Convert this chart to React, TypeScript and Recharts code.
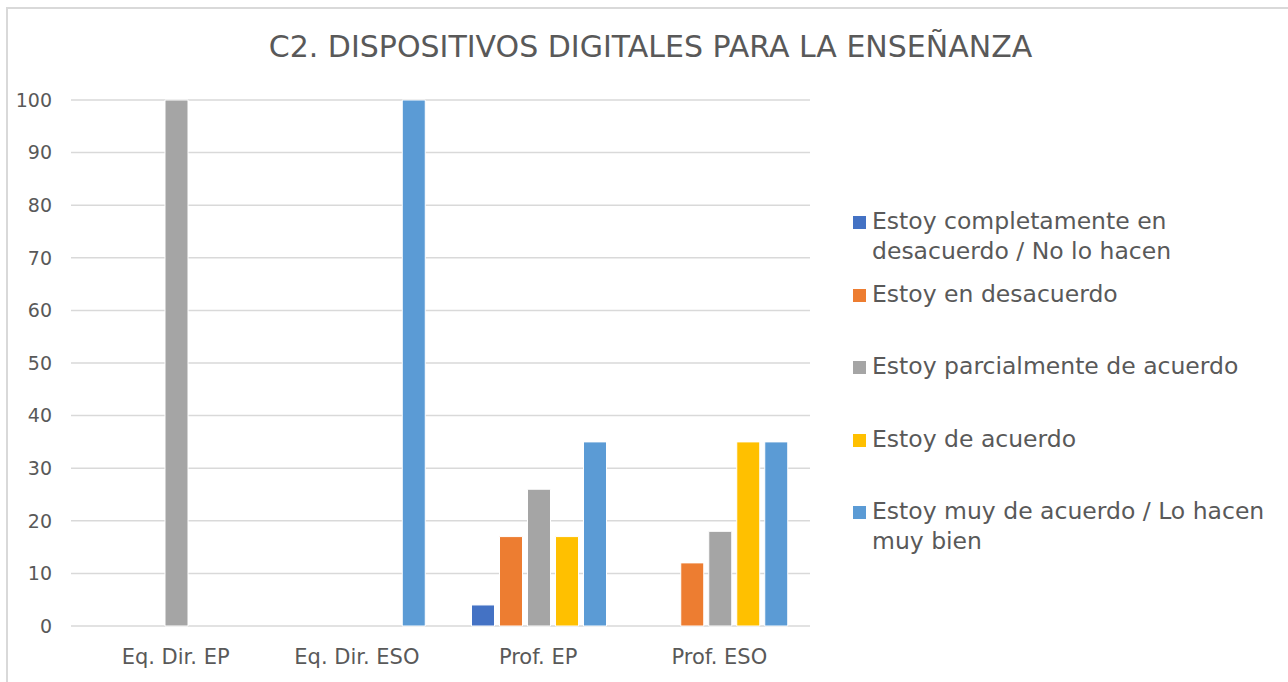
import React from 'react'
import { BarChart, Bar, XAxis, YAxis, CartesianGrid } from 'recharts'

const categories = ['Eq. Dir. EP', 'Eq. Dir. ESO', 'Prof. EP', 'Prof. ESO']
const seriesNames = [
  'Estoy completamente en desacuerdo / No lo hacen',
  'Estoy en desacuerdo',
  'Estoy parcialmente de acuerdo',
  'Estoy de acuerdo',
  'Estoy muy de acuerdo / Lo hacen muy bien',
]
const completamenteDesacuerdo = [0, 0, 4, 0]
const enDesacuerdo = [0, 0, 17, 12]
const parcialmente = [100, 0, 26, 18]
const deAcuerdo = [0, 0, 17, 35]
const muyDeAcuerdo = [0, 100, 35, 35]
const yTicks = [0, 10, 20, 30, 40, 50, 60, 70, 80, 90, 100]
const colors = ['#4472C4', '#ED7D31', '#A5A5A5', '#FFC000', '#5B9BD5']

const keys = ['s1', 's2', 's3', 's4', 's5']
const data = categories.map((c, i) => ({
  name: c,
  s1: completamenteDesacuerdo[i],
  s2: enDesacuerdo[i],
  s3: parcialmente[i],
  s4: deAcuerdo[i],
  s5: muyDeAcuerdo[i],
}))

const FONT = '"DejaVu Sans", sans-serif'
const TEXT = '#595959'

// legend drawn by hand so each entry gets the same slot height, like Excel does
const LegendBox = () => (
  <div style={{ position: 'absolute', left: 853, top: 206, fontFamily: FONT, fontSize: 23.5, color: TEXT, lineHeight: '30px' }}>
    {seriesNames.map((n, i) => (
      <div key={n} style={{ display: 'flex', height: 72.5 }}>
        <div style={{ width: 13, height: 13, background: colors[i], marginTop: 10, marginRight: 6, flexShrink: 0 }} />
        <div style={{ width: 415 }}>{n}</div>
      </div>
    ))}
  </div>
)

export default function App() {
  return (
    <div style={{ position: 'absolute', left: 0, top: 0, width: 1288, height: 682, overflow: 'hidden', background: '#fff' }}>
      <div style={{ position: 'absolute', left: 6, top: 7, width: 1320, height: 720, border: '2px solid #d9d9d9' }} />
      <div style={{ position: 'absolute', left: 0, top: 29, width: 1301, textAlign: 'center', fontFamily: FONT, fontSize: 30, color: TEXT, whiteSpace: 'nowrap' }}>
        C2. DISPOSITIVOS DIGITALES PARA LA ENSEÑANZA
      </div>
      <div style={{ position: 'absolute', left: 0, top: 0 }}>
        <BarChart
          width={1288}
          height={682}
          data={data}
          margin={{ top: 100, right: 478, left: 0, bottom: 0 }}
          barCategoryGap={24}
          barGap={5}
        >
          <CartesianGrid vertical={false} stroke="#d9d9d9" strokeWidth={1.5} />
          <XAxis
            dataKey="name"
            height={56}
            padding={{ left: 14, right: 0 }}
            axisLine={false}
            tickLine={false}
            tickSize={0}
            tickMargin={23}
            interval={0}
            tick={{ fill: TEXT, fontSize: 21, fontFamily: FONT }}
          />
          <YAxis
            width={71}
            domain={[0, 100]}
            ticks={yTicks}
            interval={0}
            axisLine={false}
            tickLine={false}
            tickSize={0}
            tickMargin={19}
            tick={{ fill: TEXT, fontSize: 19, fontFamily: FONT }}
          />
          {keys.map((k, i) => (
            <Bar key={k} dataKey={k} name={seriesNames[i]} fill={colors[i]} stroke="#ffffff" strokeWidth={1} isAnimationActive={false} />
          ))}
        </BarChart>
      </div>
      <LegendBox />
    </div>
  )
}
